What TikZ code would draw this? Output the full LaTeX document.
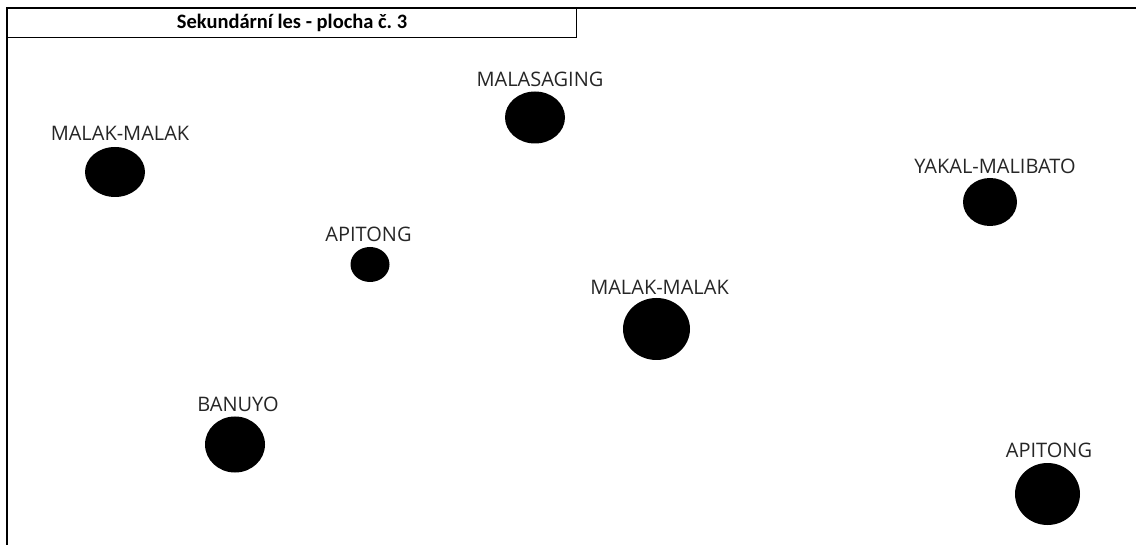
\documentclass[tikz,border=0pt]{standalone}
\usepackage{fontspec}
\setmainfont{Open Sans}
\newfontfamily\titlefont{Carlito}
\begin{document}
\begin{tikzpicture}[x=1pt,y=-1pt,
  tree/.style={fill=black,draw=none},
  lbl/.style={font=\fontsize{20}{20}\selectfont,text=black!85,inner sep=0pt,anchor=base},
  frame/.style={draw=black,line width=1.6pt}]
\useasboundingbox (0,0) rectangle (1136,545);
% plot frame: top edge and left edge
\draw[frame] (1136,8) -- (7,8) -- (7,545);
% title box
\node[draw=black,line width=1.1pt,minimum width=569pt,minimum height=29pt,
  inner sep=0pt,anchor=north west,font=\titlefont\bfseries\fontsize{20.5}{20.5}\selectfont]
  (title) at (7,8) {Sekundární les - plocha č.~3};
% trees
\fill[tree] (535,117.5) ellipse [x radius=30, y radius=26];
\node[lbl] (t1) at (540,87) {MALASAGING};
\fill[tree] (115,172) ellipse [x radius=30, y radius=25];
\node[lbl] (t2) at (120,141) {MALAK-MALAK};
\fill[tree] (370,264.5) ellipse [x radius=19.5, y radius=17.5];
\node[lbl] (t3) at (368.5,242) {APITONG};
\fill[tree] (656.5,329) ellipse [x radius=33.5, y radius=31];
\node[lbl] (t4) at (659.5,295) {MALAK-MALAK};
\fill[tree] (990,202) ellipse [x radius=27, y radius=24];
\node[lbl] (t5) at (995,174) {YAKAL-MALIBATO};
\fill[tree] (235,444.5) ellipse [x radius=30, y radius=28];
\node[lbl] (t6) at (238,412) {BANUYO};
\fill[tree] (1047.5,494) ellipse [x radius=32.5, y radius=31];
\node[lbl] (t7) at (1049,457) {APITONG};
\end{tikzpicture}
\end{document}
